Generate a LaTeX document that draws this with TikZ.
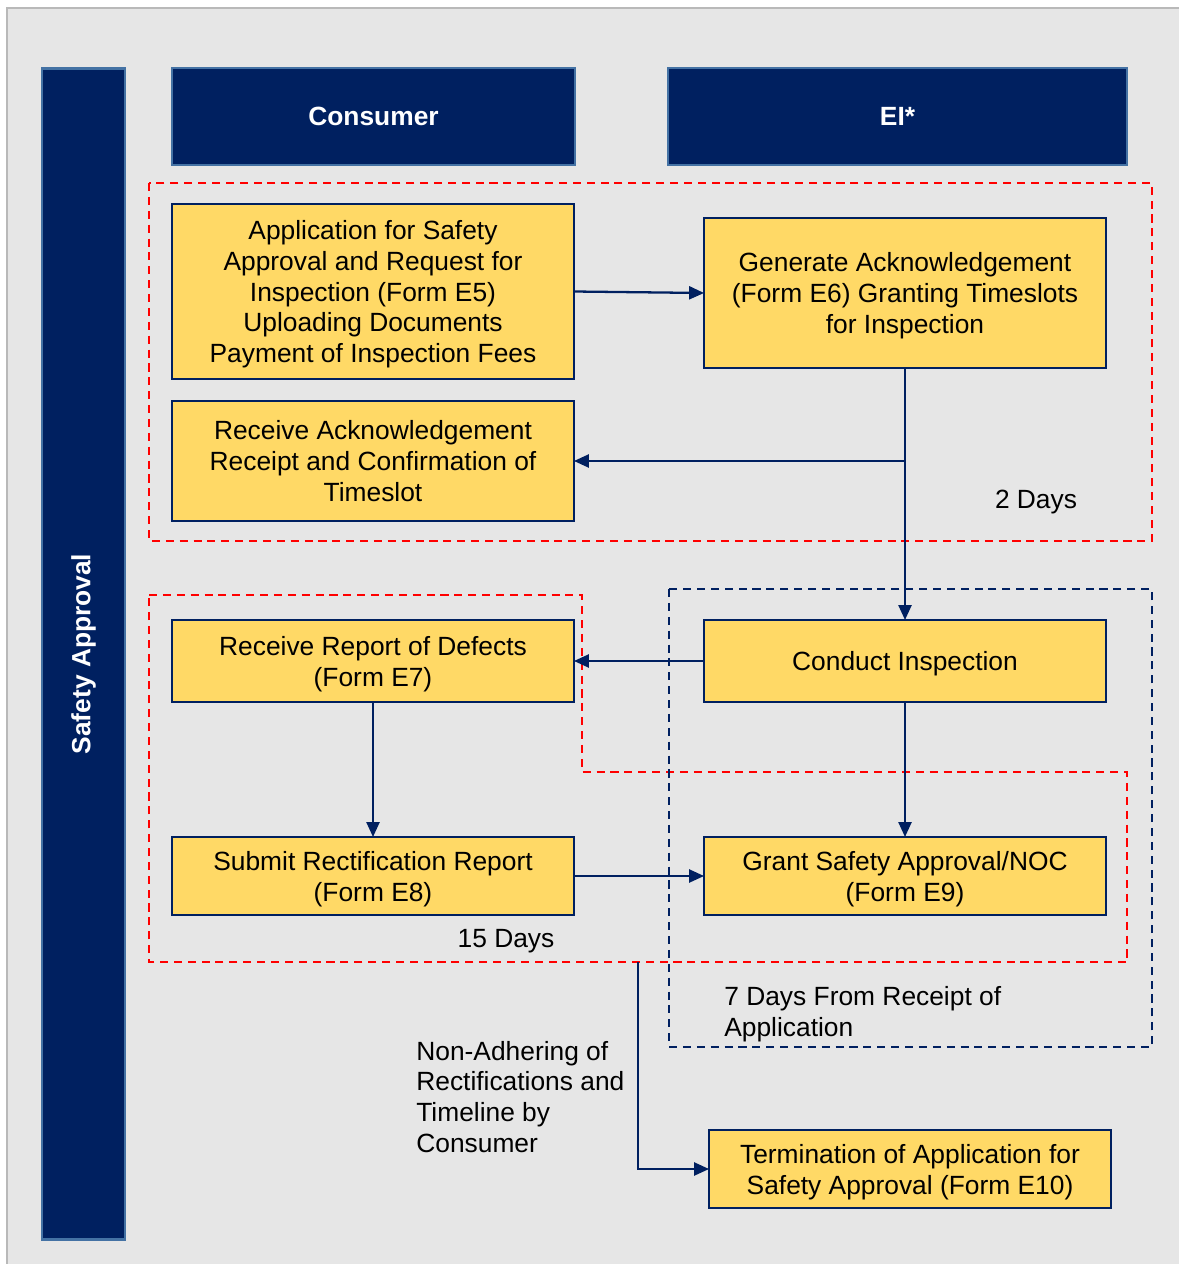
\documentclass[tikz,border=0pt]{standalone}
\usepackage{fontspec}
\setmainfont{Liberation Sans}
\usetikzlibrary{arrows.meta}
\usetikzlibrary{calc}

\definecolor{navy}{RGB}{0,32,96}
\definecolor{hdrline}{RGB}{68,114,164}
\definecolor{boxfill}{RGB}{255,217,102}
\definecolor{bggray}{RGB}{230,230,230}
\definecolor{edgegray}{RGB}{185,185,185}
\definecolor{dashred}{RGB}{255,0,0}

\begin{document}
\begin{tikzpicture}[x=0.02cm, y=-0.02cm,
    font=\fontsize{15}{17.6}\selectfont,
    hdr/.style={fill=navy, draw=hdrline, line width=1.6pt, text=white, font=\fontsize{15}{17.6}\selectfont\bfseries, inner sep=0pt, outer sep=0pt},
    stepbox/.style={fill=boxfill, draw=navy, line width=1.5pt, align=center, minimum width=8.04cm, inner sep=0pt, outer sep=0pt, text depth=-1pt},
    arr/.style={draw=navy, line width=1.3pt, -{Triangle[length=8.5pt, width=7.4pt]}},
    redzone/.style={draw=dashred, line width=1.4pt, dash pattern=on 4.6pt off 3.3pt},
    bluezone/.style={draw=navy, line width=1.4pt, dash pattern=on 4.6pt off 3.3pt}]

            % page and panel
            \useasboundingbox (0,0) rectangle (1179,1264);
            \fill[white] (0,0) rectangle (1179,1264);
            \fill[bggray] (7,8) rectangle (1179,1264);
            \draw[edgegray, line width=1pt] (7,1264) -- (7,8) -- (1179,8);

            % headers
            \node[hdr, rotate=90, minimum width=23.44cm, minimum height=1.66cm] (side) at (83.5,654) {Safety Approval};
            \node[hdr, minimum width=8.06cm, minimum height=1.94cm] (consumer) at (373.5,116.5) {Consumer};
            \node[hdr, minimum width=9.18cm, minimum height=1.94cm] (ei) at (897.5,116.5) {EI*};

            % time zones
            \draw[redzone] (149,183) rectangle (1152,541);
            \draw[redzone] (149,595) -- (582,595) -- (582,772) -- (1127,772) -- (1127,962) -- (149,962) -- cycle;
            \draw[bluezone] (669,589) rectangle (1152,1047);

            % steps
            \node[stepbox, minimum height=3.5cm] (app) at (373,291.5) {Application for Safety\\Approval and Request for\\Inspection (Form E5)\\Uploading Documents\\Payment of Inspection Fees};
            \node[stepbox, minimum height=3.0cm] (ack) at (905,293) {Generate Acknowledgement\\(Form E6) Granting Timeslots\\for Inspection};
            \node[stepbox, minimum height=2.4cm] (rcpt) at (373,461) {Receive Acknowledgement\\Receipt and Confirmation of\\Timeslot};
            \node[stepbox, minimum height=1.64cm, text depth=-2pt] (defect) at (373,661) {Receive Report of Defects\\(Form E7)};
            \node[stepbox, minimum height=1.64cm] (insp) at (905,661) {Conduct Inspection};
            \node[stepbox, minimum height=1.56cm, text depth=-3pt] (rectify) at (373,876) {Submit Rectification Report\\(Form E8)};
            \node[stepbox, minimum height=1.56cm, text depth=-3pt] (grant) at (905,876) {Grant Safety Approval/NOC\\(Form E9)};
            \node[stepbox, minimum height=1.56cm, text depth=-3pt] (term) at (910,1169) {Termination of Application for\\Safety Approval (Form E10)};

            % connectors
            \draw[arr] (app.east) -- (ack.west);
            \draw[arr] (ack.south) -- (insp.north);
            \draw[arr] (ack.south |- rcpt.east) -- (rcpt.east);
            \draw[arr] (insp.west) -- (defect.east);
            \draw[arr] (defect.south) -- (rectify.north);
            \draw[arr] (insp.south) -- (grant.north);
            \draw[arr] (rectify.east) -- (grant.west);
            \coordinate (lapse) at (638,962);
            \draw[arr] (lapse) |- (term.west);

            % notes
            \node (twodays) at (1036,502) {2 Days};
            \node (fifteendays) at (506,941) {15 Days};
            \node[anchor=west, align=left, inner sep=0pt] (sevendays) at (724,1014) {7 Days From Receipt of\\Application};
            \node[anchor=west, align=left, inner sep=0pt] (nonadh) at (416,1097) {Non-Adhering of\\Rectifications and\\Timeline by\\Consumer};
        \end{tikzpicture}
\end{document}
